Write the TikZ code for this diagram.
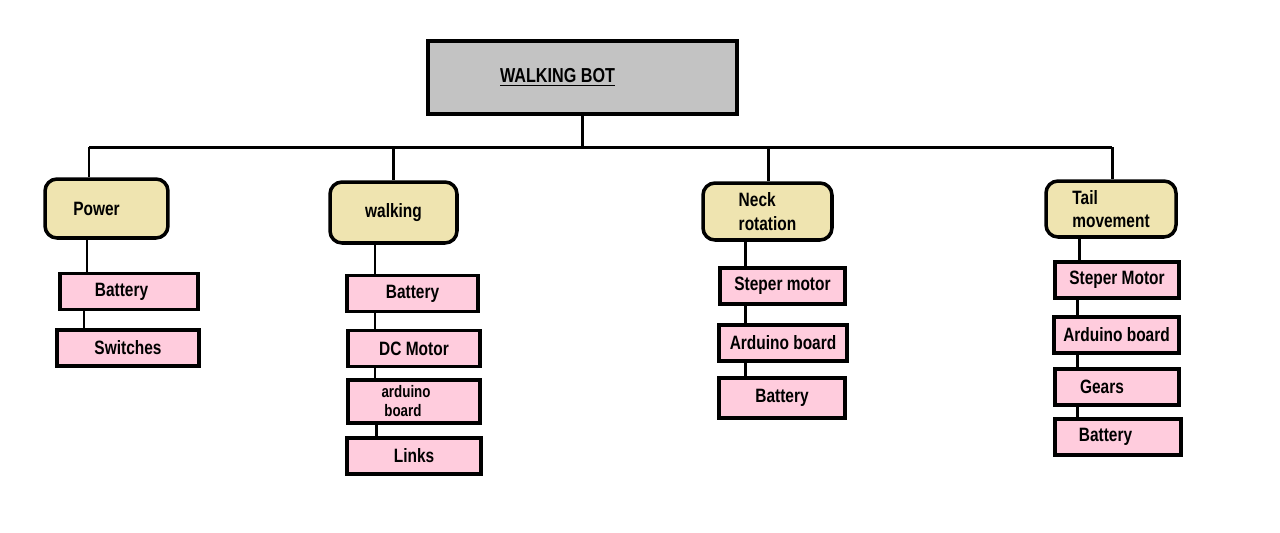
\documentclass[tikz,border=0pt]{standalone}
\usepackage{fontspec}
\setmainfont[FakeStretch=0.8]{Liberation Sans}
\definecolor{rootgray}{RGB}{195,195,195}
\definecolor{grouptan}{RGB}{239,228,176}
\definecolor{partpink}{RGB}{255,204,221}
\tikzset{
  topbox/.style={draw, line width=2pt, fill=rootgray, minimum width=6.18cm, minimum height=1.46cm,
    font=\bfseries\fontsize{11.5}{13}\selectfont},
  groupbox/.style={draw, line width=2pt, fill=grouptan, rounded corners=0.24cm, align=left,
    font=\bfseries\fontsize{11}{13.2}\selectfont},
  partbox/.style={draw, line width=2pt, fill=partpink, minimum height=0.72cm, align=left,
    font=\bfseries\fontsize{11}{13.2}\selectfont},
  link/.style={line width=1.7pt}
}
\begin{document}
\begin{tikzpicture}[x=0.02cm,y=-0.02cm]
\useasboundingbox (0,0) rectangle (1280,532);

% top
\node[topbox] (root) at (582.5,77.5) {\underline{WALKING BOT}\hspace*{1cm}};

% groups
\node[groupbox, minimum width=2.46cm, minimum height=1.18cm] (power) at (106.5,208.5) {Power\hspace*{0.4cm}};
\node[groupbox, minimum width=2.54cm, minimum height=1.22cm] (walking) at (393.5,212.5) {walking};
\node[groupbox, minimum width=2.58cm, minimum height=1.14cm] (neck) at (767.5,211.5) {Neck\\rotation};
\node[groupbox, minimum width=2.6cm, minimum height=1.12cm] (tail) at (1111,209) {Tail\\movement};

% power parts
\node[partbox, minimum width=2.76cm] (pbat) at (129,291.5) {Battery\hspace*{0.3cm}};
\node[partbox, minimum width=2.84cm] (psw) at (128,348) {Switches};

% walking parts
\node[partbox, minimum width=2.62cm] (wbat) at (412.5,293.5) {Battery};
\node[partbox, minimum width=2.64cm] (wdc) at (414,348.5) {DC Motor};
\node[partbox, minimum width=2.64cm, font=\bfseries\fontsize{9.5}{10.8}\selectfont] (wardu) at (414,401.5) {arduino\\\,board\hspace*{0.5cm}};
\node[partbox, minimum width=2.68cm] (wlinks) at (414,456) {Links};

% neck parts
\node[partbox, minimum width=2.5cm] (nstep) at (782.5,286) {Steper motor};
\node[partbox, minimum width=2.56cm] (nardu) at (783,343) {Arduino board};
\node[partbox, minimum width=2.52cm, minimum height=0.8cm] (nbat) at (782,398) {Battery};

% tail parts
\node[partbox, minimum width=2.48cm] (tstep) at (1117,280) {Steper Motor};
\node[partbox, minimum width=2.5cm] (tardu) at (1116.5,335) {Arduino board};
\node[partbox, minimum width=2.48cm] (tgear) at (1117,387) {Gears\hspace*{0.6cm}};
\node[partbox, minimum width=2.52cm] (tbat) at (1118,437) {Battery\hspace*{0.5cm}};

% bus
\coordinate (busL) at (89,147);
\coordinate (busR) at (1112,147);
\coordinate (bw) at (393,147);
\coordinate (bn) at (768,147);
\draw[link] (root.south) -- (root.south |- busL);
\draw[link] (busL) -- (busR);
\draw[link] (busL) -- (busL |- power.north);
\draw[link] (bw) -- (bw |- walking.north);
\draw[link] (bn) -- (bn |- neck.north);
\draw[link] (busR) -- (busR |- tail.north);

% spines
\foreach \a/\b/\x in {power/pbat/87, pbat/psw/84,
    walking/wbat/375, wbat/wdc/375, wdc/wardu/375, wardu/wlinks/376,
    neck/nstep/745, nstep/nardu/745, nardu/nbat/745,
    tail/tstep/1079, tstep/tardu/1077, tardu/tgear/1077, tgear/tbat/1077}
  {
    \coordinate (sp) at (\x,0);
    \draw[link] (\a.south -| sp) -- (\b.north -| sp);
  }
\end{tikzpicture}
\end{document}
